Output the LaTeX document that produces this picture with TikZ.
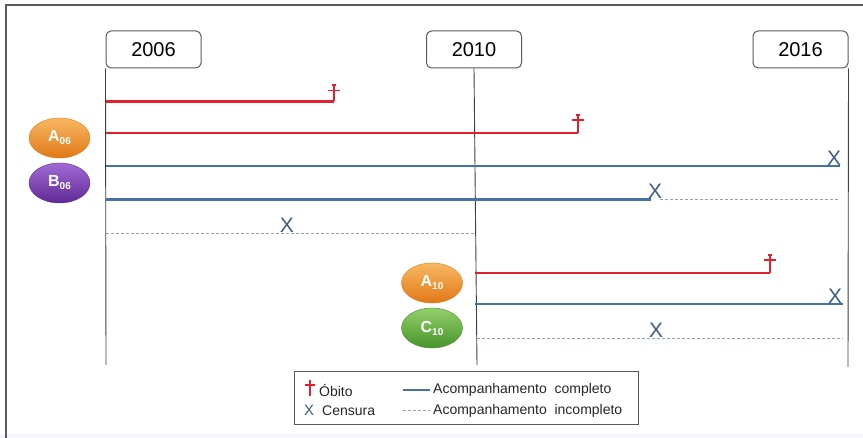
\documentclass[tikz,border=0pt]{standalone}
\usepackage{fontspec}
\setmainfont{Liberation Sans}
\usetikzlibrary{shapes.geometric}
\definecolor{redl}{HTML}{E2202C}
\definecolor{bluel}{HTML}{4272A6}
\definecolor{dashl}{HTML}{8FA3B6}
\definecolor{xcol}{HTML}{3E5F80}
\definecolor{framec}{HTML}{5A5A5A}
\definecolor{orT}{HTML}{F8B862}
\definecolor{orB}{HTML}{E07818}
\definecolor{puT}{HTML}{A36AD6}
\definecolor{puB}{HTML}{5F2A94}
\definecolor{grT}{HTML}{95CF6A}
\definecolor{grB}{HTML}{46942C}
\tikzset{
  yearbox/.style={draw=framec, line width=1pt, rounded corners=5pt, minimum width=95pt, minimum height=37pt, inner sep=0pt, font=\fontsize{20}{24}\selectfont},
  axisline/.style={draw=black!75, line width=0.9pt},
  redline/.style={draw=redl, line width=2.4pt},
  crossline/.style={draw=redl, line width=1.6pt},
  blueline/.style={draw=bluel, line width=2.2pt},
  dashline/.style={draw=dashl, line width=0.9pt, dash pattern=on 3pt off 2pt},
  xmark/.style={text=xcol, inner sep=0pt, font=\fontsize{21}{24}\selectfont},
  blob/.style={ellipse, minimum width=61pt, minimum height=40pt, inner sep=0pt, text=white, font=\fontsize{16}{18}\selectfont\bfseries, line width=0.4pt},
  orangeblob/.style={blob, top color=orT, bottom color=orB, draw=orB},
  purpleblob/.style={blob, top color=puT, bottom color=puB, draw=puB},
  greenblob/.style={blob, top color=grT, bottom color=grB, draw=grB},
  legtext/.style={anchor=west, inner sep=0pt, text=black!85, font=\fontsize{14}{16}\selectfont},
}
\newcommand{\subnum}[1]{\raisebox{-0.35ex}{\fontsize{10}{10}\selectfont #1}}
\begin{document}
\begin{tikzpicture}[x=1pt,y=-1pt]
\useasboundingbox (0,0) rectangle (863,438);
\fill[white] (0,0) rectangle (863,438);
\fill[blue!4] (0,434) rectangle (863,438);
% frame
\draw[framec, line width=2pt] (6,438) -- (6,5) -- (863,5);

% year boxes
\node[yearbox] (y06) at (153.5,49.5) {2006};
\node[yearbox] (y10) at (474,49.5) {2010};
\node[yearbox] (y16) at (800.5,49.5) {2016};
\coordinate (a06) at (106,365);
\coordinate (a10) at (477,365);
\coordinate (a16) at (848,367);
\draw[axisline] (y06.south west) -- (a06);
\draw[axisline] (y10.south) -- (a10);
\draw[axisline] (y16.south east) -- (a16);

% groups
\node[orangeblob] (A06) at (59.5,138) {A\subnum{06}};
\node[purpleblob] (B06) at (59.5,183) {B\subnum{06}};
\node[orangeblob] (A10) at (432,283) {A\subnum{10}};
\node[greenblob] (C10) at (432,328) {C\subnum{10}};

% line 1 (death)
\coordinate (l1a) at (106,101.5);
\coordinate (l1b) at (334,101.5);
\coordinate (l1t) at (334,85);
\draw[redline] (l1a) -- (l1b);
\draw[crossline] (l1b) -- (l1t);
\draw[crossline] ([xshift=-6pt,yshift=11pt]l1b) -- ([xshift=6pt,yshift=11pt]l1b);
\draw[crossline] ([xshift=-2pt]l1t) -- ([xshift=2pt]l1t);

% line 2 (death)
\coordinate (l2a) at (106,133);
\coordinate (l2b) at (578,133);
\coordinate (l2t) at (578,115);
\draw[redline] (l2a) -- (l2b);
\draw[crossline] (l2b) -- (l2t);
\draw[crossline] ([xshift=-6pt,yshift=13pt]l2b) -- ([xshift=6pt,yshift=13pt]l2b);
\draw[crossline] ([xshift=-2pt]l2t) -- ([xshift=2pt]l2t);

% line 3 (censored at end)
\coordinate (l3a) at (106,166);
\coordinate (l3b) at (840,166);
\draw[blueline] (l3a) -- (l3b);
\node[xmark] (x3) at (834,158.5) {X};

% line 4 (censored, then incomplete)
\coordinate (l4a) at (106,199.5);
\coordinate (l4b) at (651,199.5);
\coordinate (l4c) at (660,199.5);
\coordinate (l4d) at (840,199.5);
\draw[blueline] (l4a) -- (l4b);
\draw[dashline] (l4c) -- (l4d);
\node[xmark] (x4) at (655,191.5) {X};

% line 5 (incomplete)
\coordinate (l5a) at (106,233.5);
\coordinate (l5b) at (474,233.5);
\draw[dashline] (l5a) -- (l5b);
\node[xmark] (x5) at (287,225.5) {X};

% line 6 (death)
\coordinate (l6a) at (475,273);
\coordinate (l6b) at (770,273);
\coordinate (l6t) at (770,255);
\draw[redline] (l6a) -- (l6b);
\draw[crossline] (l6b) -- (l6t);
\draw[crossline] ([xshift=-6pt,yshift=13pt]l6b) -- ([xshift=6pt,yshift=13pt]l6b);
\draw[crossline] ([xshift=-2pt]l6t) -- ([xshift=2pt]l6t);

% line 7 (censored at end)
\coordinate (l7a) at (475,304);
\coordinate (l7b) at (843,304);
\draw[blueline] (l7a) -- (l7b);
\node[xmark] (x7) at (835,296.5) {X};

% line 8 (incomplete)
\coordinate (l8a) at (477,338);
\coordinate (l8b) at (843,338);
\draw[dashline] (l8a) -- (l8b);
\node[xmark] (x8) at (656,330) {X};

% legend
\node[draw=framec, line width=1pt, minimum width=344pt, minimum height=53pt, inner sep=0pt] (leg) at (466,398.5) {};
\coordinate (lgc) at (310,396);
\coordinate (lgt) at (310,380);
\draw[crossline, line width=1.3pt] (lgc) -- (lgt);
\draw[crossline, line width=1.3pt] (305,385) -- (315,385);
\node[legtext] (tob) at (319,390) {Óbito};
\node[text=xcol, inner sep=0pt, font=\fontsize{15}{16}\selectfont] (lx) at (309,410.5) {X};
\node[legtext] (tce) at (322,410.5) {Censura};
\coordinate (ls1) at (403,390);
\coordinate (ls2) at (430,390);
\draw[blueline, line width=1.8pt] (ls1) -- (ls2);
\node[legtext] (tcomp) at (433,390) {Acompanhamento\ \ completo};
\coordinate (ld1) at (403,410.5);
\coordinate (ld2) at (430,410.5);
\draw[dashline] (ld1) -- (ld2);
\node[legtext] (tinc) at (433,410.5) {Acompanhamento\ \ incompleto};
\end{tikzpicture}
\end{document}
